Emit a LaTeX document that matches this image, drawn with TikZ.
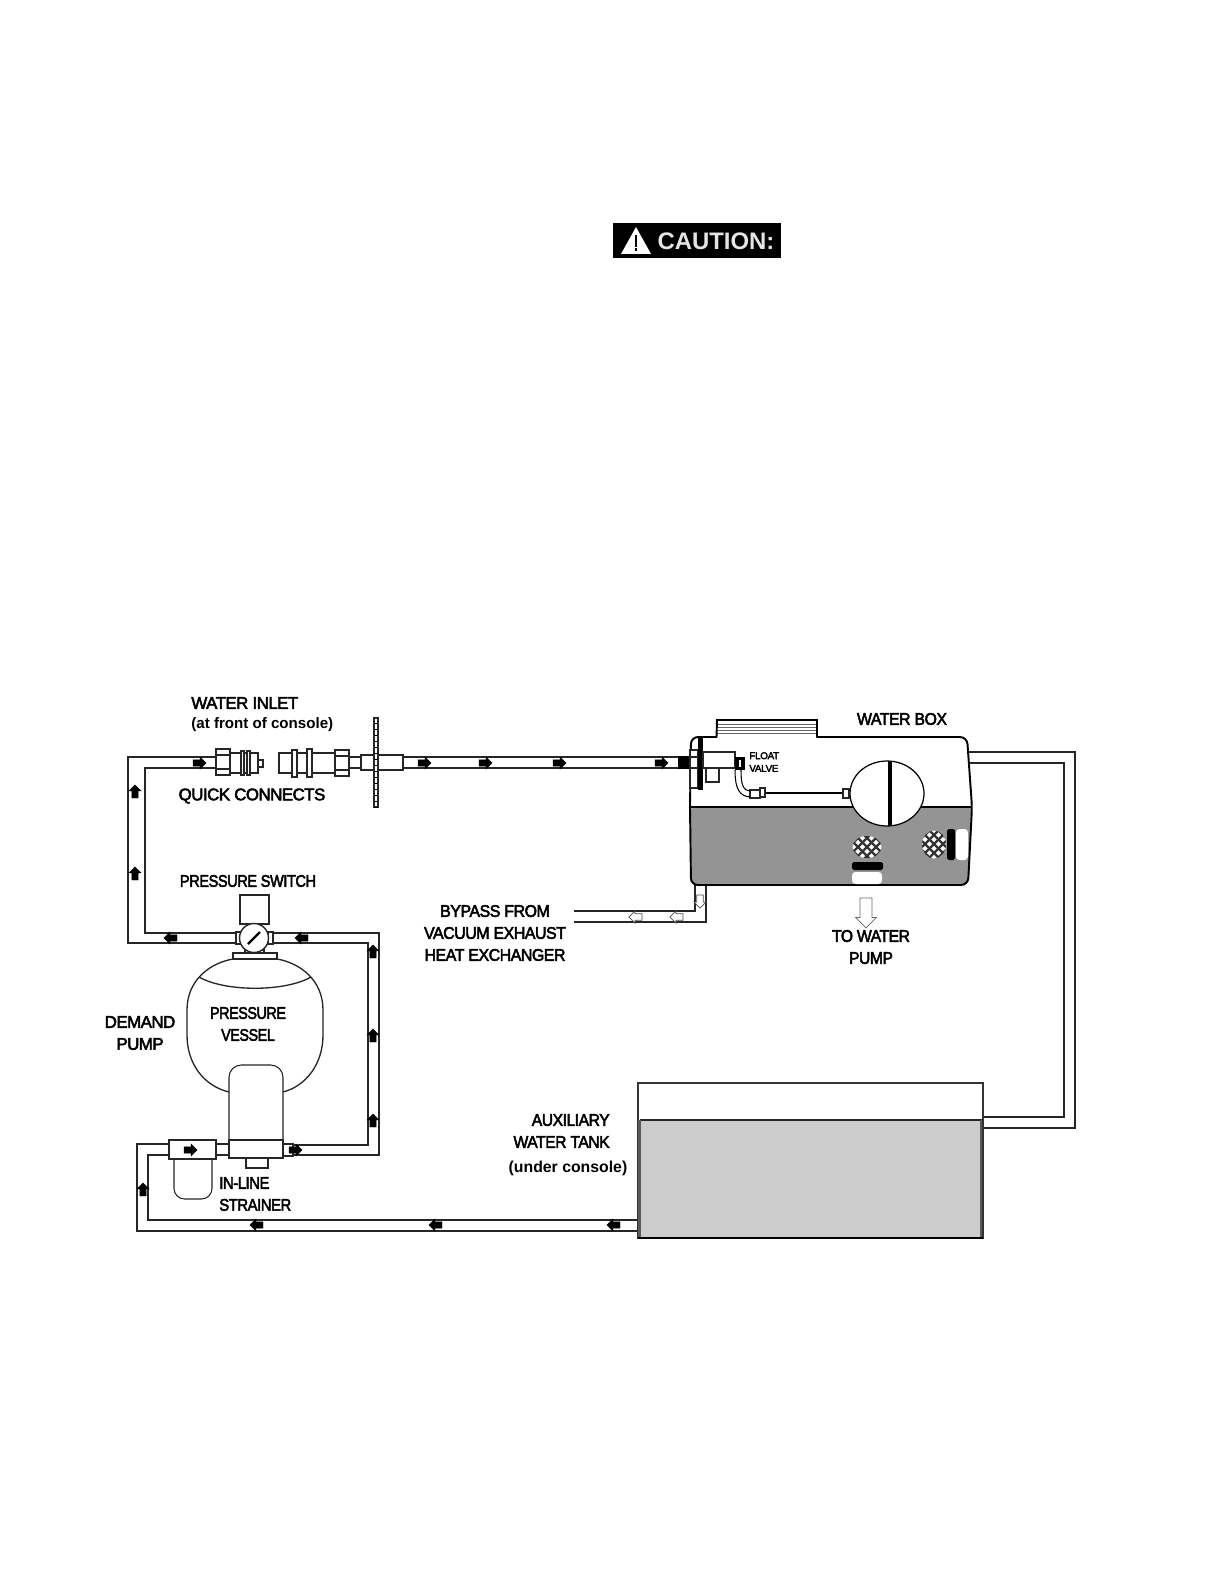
\documentclass[tikz,border=0pt]{standalone}
\usepackage{fontspec}
\setmainfont{Liberation Sans}
\newfontfamily\lblfont{Liberation Sans}[FakeBold=3,LetterSpace=-3]
\usetikzlibrary{shapes,arrows,positioning,calc}
\definecolor{waterbox}{gray}{0.58}
\definecolor{watertank}{gray}{0.8}

\tikzset{
    lbl/.style={font=\lblfont\fontsize{9.6}{12.5}\selectfont,inner sep=0pt,align=center},
    tight/.style={transform shape,xscale=#1},
    smalllbl/.style={font=\bfseries\fontsize{8.6}{11}\selectfont,inner sep=0pt,align=left},
    pipe/.style={draw=black!85,line width=0.6pt},
    part/.style={draw=black!85,fill=white,line width=0.6pt},
    flow/.style={single arrow,draw=black,fill=black,inner sep=1.5pt,minimum width=7pt,minimum height=7.5pt,single arrow head extend=1.5pt,line width=0.2pt},
    openflow/.style={flow,fill=white,draw=black!70,line width=0.4pt},
}

\begin{document}
\begin{tikzpicture}[x=0.02cm,y=-0.02cm]
    \useasboundingbox (0,0) rectangle (1224,1584);

    % Caution sign
    \node[fill=black,minimum width=168*0.02cm,minimum height=35*0.02cm,inner sep=0pt] (caution) at (697,240.5) {};
    \node[font=\bfseries\fontsize{13.6}{14}\selectfont,text=white!90!black,inner sep=0pt] (cautiontext) at (716,241) {CAUTION:};
    \fill[white] (621,254) -- (636,227) -- (651,254) -- cycle;
    \fill[black] (634.6,235) rectangle (637.4,247);
    \fill[black] (634.6,248.5) rectangle (637.4,251.5);

    % Pipe ends
    \coordinate (inA) at (216,757);
    \coordinate (inB) at (216,768);
    \coordinate (swA) at (236,943);
    \coordinate (swB) at (236,933);
    \coordinate (swC) at (273,933);
    \coordinate (swD) at (273,943);
    \coordinate (pumpA) at (283,1155);
    \coordinate (pumpB) at (283,1145);
    \coordinate (strA) at (169,1144);
    \coordinate (strB) at (169,1155);
    \coordinate (tankA) at (638,1231);
    \coordinate (tankB) at (638,1220);
    \coordinate (boxA) at (403,757);
    \coordinate (boxB) at (403,768);
    \coordinate (fitA) at (678,757);
    \coordinate (fitB) at (678,768);
    \coordinate (byA) at (574,911);
    \coordinate (byB) at (574,922);
    \coordinate (byC) at (695,885);
    \coordinate (byD) at (706,885);
    \coordinate (outA) at (969,752);
    \coordinate (outB) at (969,763);
    \coordinate (backA) at (983,1128);
    \coordinate (backB) at (983,1117);

    % Pipes
    \draw[pipe] (inA) -- (128,757) -- (128,943) -- (swA);
    \draw[pipe] (inB) -- (145,768) -- (145,933) -- (swB);
    \draw[pipe] (swC) -- (379,933) -- (379,1155) -- (pumpA);
    \draw[pipe] (swD) -- (368,943) -- (368,1145) -- (pumpB);
    \draw[pipe] (strA) -- (137,1144) -- (137,1231) -- (tankA);
    \draw[pipe] (strB) -- (148,1155) -- (148,1220) -- (tankB);
    \draw[pipe] (boxA) -- (fitA);
    \draw[pipe] (boxB) -- (fitB);
    \draw[pipe] (byA) -- (695,911) -- (byC);
    \draw[pipe] (byB) -- (706,922) -- (byD);
    \draw[pipe] (outA) -- (1075,752) -- (1075,1128) -- (backA);
    \draw[pipe] (outB) -- (1064,763) -- (1064,1117) -- (backB);
    \draw[pipe] (216,1144) -- (229,1144);
    \draw[pipe] (216,1155) -- (229,1155);
    \draw[pipe] (349,757) -- (361,757);
    \draw[pipe] (349,768) -- (361,768);

    % Quick connects
    \draw[part] (230,753) rectangle (258,773);
    \draw[part] (258,760) rectangle (263,767);
    \draw[part] (216,749) rectangle (230,775);
    \draw[pipe] (216,755) -- (230,755) (216,769) -- (230,769);
    \draw[part] (241,751) rectangle (244,775);
    \draw[part] (247,751) rectangle (250,775);
    \draw[part] (279,753) rectangle (335,773);
    \draw[part] (292,750) rectangle (297,777);
    \draw[part] (307,749) rectangle (312,777);
    \draw[part] (335,750) rectangle (349,776);
    \draw[pipe] (335,756) -- (349,756) (335,770) -- (349,770);
    \draw[part] (361,755) rectangle (403,770);
    \draw[part] (374,718) rectangle (378,807);
    \foreach \i in {0,...,14} {
        \draw[line width=0.35pt] (374,723+\i*6) -- (378,723+\i*6);
    }

    % Water box
    \fill[waterbox] (690,807) -- (971,807) -- (969,880) [rounded corners=3pt] -- (968,885) -- (691,885) -- (690,880) -- cycle;
    \draw[line width=0.6pt] (690,807) -- (972,807);
    \foreach \i in {724,727,730,733} {
        \draw[line width=0.2pt,black!60] (717,\i) -- (817,\i);
    }
    \draw[line width=1.1pt,rounded corners=4pt] (717,737) -- (691,737) -- (690,807) -- (691,885) -- (968,885) -- (972,807) -- (967,737) -- (817,737);
    \draw[line width=1.1pt] (716.5,737) -- (717,720) -- (817,720) -- (817,737.5);

    % Float
    \draw[line width=0.7pt,fill=white] (887,793.5) ellipse (37 and 32.5);
    \draw[line width=1.8pt] (890,761) -- (890,826);
    \draw[line width=1.6pt] (766,793) -- (843,793);
    \draw[part] (843,789) rectangle (849,798);
    \draw[part] (750,790) rectangle (760,798);
    \draw[part,line width=0.8pt] (760,788) rectangle (765,797);
    \draw[line width=0.6pt] (735,770) .. controls (735,790) and (740,796) .. (750,797);
    \draw[line width=0.6pt] (741,770) .. controls (741,785) and (743,790) .. (750,791);

    % Float valve
    \fill[black] (678,756) rectangle (689,769);
    \draw[part] (690,750) rectangle (698,788);
    \draw[pipe] (690,757) -- (698,757) (690,768) -- (698,768);
    \fill[black] (698,738) rectangle (703,790);
    \draw[part] (703,752) rectangle (735,768);
    \draw[part] (706,768) rectangle (719,782);
    \fill[black] (735,757) rectangle (745,770);
    \fill[white] (739,760) rectangle (741,767);

    % Strainers in the water box
    \begin{scope}
        \clip (867,847) ellipse (14.5 and 11);
        \fill[white] (850,833) rectangle (884,861);
        \foreach \i in {-36,-27,...,36} {
            \draw[line width=1.3pt,black!80] (867+\i-15,832) -- (867+\i+15,862);
            \draw[line width=1.3pt,black!80] (867+\i+15,832) -- (867+\i-15,862);
        }
    \end{scope}
    \fill[black,rounded corners=1pt] (852,862) rectangle (883,870);
    \fill[white,rounded corners=2pt] (852,872) rectangle (882,884);
    \begin{scope}
        \clip (934,844.5) ellipse (12 and 14);
        \fill[white] (920,829) rectangle (948,860);
        \foreach \i in {-36,-27,...,36} {
            \draw[line width=1.3pt,black!80] (934+\i-15,829) -- (934+\i+15,859);
            \draw[line width=1.3pt,black!80] (934+\i+15,829) -- (934+\i-15,859);
        }
    \end{scope}
    \fill[black,rounded corners=1pt] (947,829) rectangle (955,860);
    \fill[white,rounded corners=2pt] (956,829) rectangle (968,860);

    % Auxiliary tank
    \draw[line width=0.6pt,draw=black!80,fill=white] (638,1083) rectangle (983,1238);
    \fill[watertank] (640,1120) rectangle (981,1237);
    \draw[line width=0.8pt,draw=black!85] (640,1120) -- (983,1120);
    \draw[line width=1.2pt,draw=black!65] (639.5,1120) -- (639.5,1238) (981,1120) -- (981,1238);
    \draw[line width=1.2pt] (638,1238) -- (983,1238);

    % Pressure vessel
    \draw[line width=0.75pt,draw=black!85,fill=white] (233,959) .. controls (210,963) and (187,980) .. (187,1010) -- (187,1035) .. controls (187,1064) and (204,1086) .. (229,1092) -- (283,1092) .. controls (306,1086) and (323,1064) .. (323,1035) -- (323,1010) .. controls (323,980) and (300,963) .. (277,959);
    \draw[line width=0.75pt,draw=black!85] (199,977) .. controls (225,992) and (285,992) .. (311,977);
    \draw[part] (233,953) rectangle (277,959);
    \draw[part] (245,950) rectangle (264,953);

    % Pressure switch
    \draw[part] (240,895) rectangle (269,924);
    \draw[part] (236,932) rectangle (241,944);
    \draw[part] (268,932) rectangle (273,944);
    \draw[part,line width=0.8pt] (254,938) circle (14.5);
    \draw[line width=1.3pt] (248,944) -- (260,932);

    % Pump and strainer
    \draw[part,rounded corners=7pt] (229,1140) -- (229,1065) -- (283,1065) -- (283,1140);
    \draw[part] (229,1140) rectangle (283,1158);
    \draw[part] (246,1158) rectangle (268,1168);
    \draw[part] (283,1144) rectangle (293,1156);
    \draw[part,rounded corners=6pt] (174,1159) -- (174,1199) -- (212,1199) -- (212,1159);
    \draw[part] (169,1140) rectangle (216,1159);

    % Flow arrows
    \foreach \x/\y/\a/\n in {198/763/0/a,423/763/0/b,484/763/0/c,558/763/0/d,660/763/0/e,
        135/793/90/f,135/875/90/g,172/938/180/h,303/938/180/i,373/953/90/j,373/1037/90/k,
        373/1122/90/l,294/1150/0/m,189/1150/0/n,143/1191/90/o,258/1225/180/p,437/1225/180/q,615/1225/180/r} {
        \node[flow,shape border rotate=\a] (flow\n) at (\x,\y) {};
    }
    \foreach \x/\y/\a/\n in {700/900/270/a,678/917/180/b,637/917/180/c} {
        \node[openflow,shape border rotate=\a] (open\n) at (\x,\y) {};
    }
    \node[single arrow,draw=black!60,fill=white,line width=0.4pt,inner sep=3.2pt,minimum width=11.5pt,minimum height=17pt,single arrow head extend=2.5pt,shape border rotate=270] (topump) at (866,910) {};

    % Labels
    \node[lbl,align=left,anchor=west] (inlet) at (191,703) {WATER INLET};
    \node[smalllbl,anchor=west] (front) at (191,725) {(at front of console)};
    \node[lbl] (quick) at (252,796) {QUICK CONNECTS};
    \node[lbl,tight=0.865] (switch) at (248,881) {PRESSURE SWITCH};
    \node[lbl,tight=0.94] (boxlabel) at (902,719) {WATER BOX};
    \node[lbl,align=left,anchor=west,font=\lblfont\fontsize{5.6}{7.2}\selectfont] (float) at (749,762) {FLOAT\\VALVE};
    \node[lbl,tight=0.945] (bypass) at (495,933) {BYPASS FROM\\VACUUM EXHAUST\\HEAT EXCHANGER};
    \node[lbl,tight=0.93] (towater) at (871,947) {TO WATER\\PUMP};
    \node[lbl] (demand) at (140,1033) {DEMAND\\PUMP};
    \node[lbl,tight=0.85] (vessel) at (248,1024) {PRESSURE\\VESSEL};
    \node[lbl,align=left,anchor=west,tight=0.88] (inline) at (219,1194) {IN-LINE\\STRAINER};
    \node[lbl,align=right,anchor=east,tight=0.93] (aux) at (610,1131) {AUXILIARY\\WATER TANK};
    \node[smalllbl,font=\bfseries\fontsize{9}{11}\selectfont] (under) at (568,1168) {(under console)};
\end{tikzpicture}
\end{document}
